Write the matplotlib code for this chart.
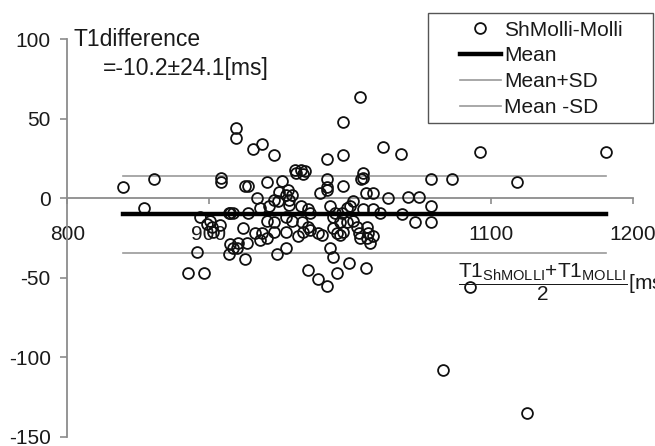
import numpy as np
import matplotlib
matplotlib.use("Agg")
import matplotlib.pyplot as plt
from matplotlib.patches import Rectangle

plt.rcParams['font.family'] = ['Liberation Sans', 'DejaVu Sans']
plt.rcParams['mathtext.fontset'] = 'custom'
plt.rcParams['mathtext.rm'] = 'Liberation Sans'
plt.rcParams['mathtext.it'] = 'Liberation Sans'
plt.rcParams['axes.unicode_minus'] = False

# (T1_ShMOLLI + T1_MOLLI)/2 [ms]
avg_t1 = [839, 861, 854, 892, 885, 897, 909, 909, 894, 899, 902, 908, 903, 914, 901,
          919, 919, 926, 928, 931, 938, 946, 941, 934, 915, 917, 928, 936, 943, 950,
          952, 956, 955, 959, 957, 946, 949, 957, 965, 970, 972, 961, 965, 968, 962,
          967, 941, 946, 955, 959, 966, 970, 972, 967, 924, 933, 938, 936, 941, 946,
          955, 963, 977, 915, 917, 920, 921, 927, 914, 926, 948, 955, 970, 977, 984,
          979, 984, 984, 995, 995, 1007, 1023, 1036, 1009, 1009, 1008, 984, 984, 995,
          1011, 1016, 1027, 1041, 1049, 1057, 1002, 1000, 998, 986, 989, 994, 988,
          1009, 1016, 1021, 1037, 1046, 1057, 993, 998, 1002, 1005, 988, 991, 993, 995,
          1012, 1013, 1012, 1006, 1007, 1016, 1014, 980, 986, 988, 999, 1011, 991,
          1092, 1181, 1057, 1072, 1118, 1085, 1066, 1125]
# ShMOLLI - MOLLI [ms]
diff_t1 = [7, 12, -6, -34, -47, -47, 13, 10, -12, -16, -18, -17, -21, -9, -14,
           44, 38, 8, 8, 31, 34, 27, 10, 0, -9, -9, -9, -6, -5, 4,
           11, 5, 2, 2, -1, -1, -2, -4, -5, -7, -9, 18, 18, 17, 16,
           15, -14, -15, -12, -14, -15, -18, -20, -21, -19, -22, -22, -26, -25, -21,
           -21, -24, -22, -29, -31, -31, -28, -28, -35, -38, -35, -31, -45, -51, -55,
           3, 5, 25, 27, 48, 64, 32, 28, 16, 13, 12, 12, 7, 8,
           3, 3, 0, 1, 1, -5, -2, -5, -6, -5, -9, -9, -12,
           -7, -7, -9, -10, -15, -15, -15, -15, -14, -18, -19, -22, -23, -21,
           -18, -22, -25, -22, -25, -24, -28, -23, -31, -37, -41, -44, -47,
           29, 29, 12, 12, 10, -56, -108, -135]

mean_diff = -10.2
sd_diff = 24.1

xticks = [800, 900, 1000, 1100, 1200]
xtick_labels = ['800', '900', '', '1100', '1200']
yticks = [-150, -100, -50, 0, 50, 100]

W, H = 655, 446
fig = plt.figure(figsize=(W / 100, H / 100), dpi=100)
ax = fig.add_axes([67.4 / W, (H - 436.7) / H, 565.3 / W, 397.4 / H])

txt = '#1a1a1a'
axcol = '#8c8c8c'

x0, x1 = min(avg_t1), max(avg_t1)
ax.plot([x0, x1], [mean_diff + sd_diff] * 2, color='#9a9a9a', lw=1.2, zorder=2, label='Mean+SD')
ax.plot([x0, x1], [mean_diff - sd_diff] * 2, color='#9a9a9a', lw=1.2, zorder=2, label='Mean -SD')
ax.plot(avg_t1, diff_t1, ls='none', marker='o', ms=7.8, mfc='none', mec='#111111',
        mew=1.3, zorder=3, label='ShMolli-Molli')
ax.plot([x0, x1], [mean_diff] * 2, color='black', lw=3.2, zorder=4, label='Mean')

ax.set_xlim(800, 1200)
ax.set_ylim(-150, 100)
for s in ['top', 'right']:
    ax.spines[s].set_visible(False)
ax.spines['bottom'].set_position(('data', 0))
ax.spines['left'].set_color(axcol)
ax.spines['bottom'].set_color(axcol)
ax.spines['left'].set_linewidth(1.3)
ax.spines['bottom'].set_linewidth(1.3)

ax.set_xticks(xticks)
ax.set_xticklabels(xtick_labels)
ax.set_yticks(yticks)
ax.tick_params(axis='x', direction='out', length=4, color=axcol, width=1.2,
               labelsize=15, labelcolor=txt, pad=15)
ax.tick_params(axis='y', direction='out', length=5, color=axcol, width=1.2,
               labelsize=15, labelcolor=txt, pad=7)
for lab in ax.get_xticklabels():
    lab.set_zorder(1)

fig.text(74 / W, 1 - 40 / H, 'T1difference', fontsize=16.5, color=txt, va='center', ha='left')
fig.text(103 / W, 1 - 69 / H, '=-10.2\u00b124.1[ms]', fontsize=16.5, color=txt, va='center', ha='left')

fig.text(458 / W, 1 - 282 / H,
         r'$\dfrac{\mathrm{T1_{ShMOLLI}{+}T1_{MOLLI}}}{\mathrm{2}}$[ms]',
         fontsize=15, color=txt, va='center', ha='left')

h, l = ax.get_legend_handles_labels()
order = [2, 3, 0, 1]
leg = fig.legend([h[i] for i in order], [l[i] for i in order],
                 loc='upper left', bbox_to_anchor=(445 / W, 1 - 6 / H),
                 frameon=False, fontsize=15, handlelength=2.0, handletextpad=0.15,
                 labelspacing=0.33, borderpad=0.2, labelcolor=txt)
fig.add_artist(Rectangle((428 / W, 1 - 123 / H), 225 / W, 110 / H, transform=fig.transFigure,
                         fill=False, ec='#555555', lw=1.0))

fig.savefig('out.png', dpi=100)
